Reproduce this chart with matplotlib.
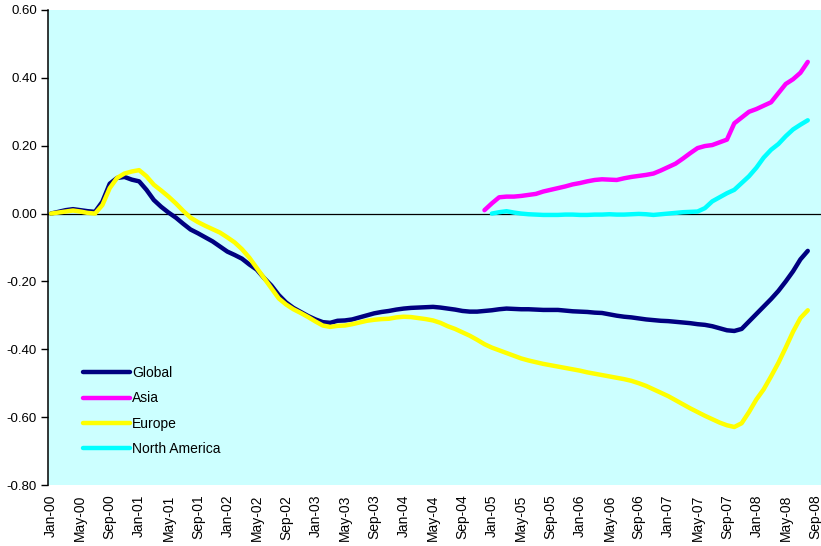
import matplotlib
matplotlib.use("Agg")
import matplotlib.pyplot as plt
import numpy as np
import pandas as pd

plt.rcParams["font.family"] = ["Liberation Sans", "DejaVu Sans"]

# monthly series, Jan-00 .. Aug-08
months = pd.date_range("2000-01-01", "2008-08-01", freq="MS")

global_vals = [
    0.000, 0.005, 0.010, 0.013, 0.010, 0.007, 0.005, 0.035, 0.088, 0.105,
    0.108, 0.100, 0.095, 0.070, 0.040, 0.020, 0.003, -0.012, -0.030, -0.047,
    -0.058, -0.070, -0.082, -0.097, -0.112, -0.122, -0.133, -0.150, -0.165, -0.190,
    -0.212, -0.240, -0.262, -0.278, -0.290, -0.302, -0.312, -0.320, -0.322, -0.316,
    -0.315, -0.312, -0.306, -0.300, -0.294, -0.290, -0.287, -0.283, -0.280, -0.278,
    -0.277, -0.276, -0.275, -0.277, -0.280, -0.283, -0.287, -0.289, -0.289, -0.287,
    -0.285, -0.282, -0.280, -0.281, -0.282, -0.282, -0.283, -0.284, -0.284, -0.284,
    -0.286, -0.288, -0.289, -0.290, -0.292, -0.293, -0.297, -0.301, -0.304, -0.306,
    -0.309, -0.312, -0.314, -0.316, -0.317, -0.319, -0.321, -0.323, -0.326, -0.328,
    -0.332, -0.338, -0.344, -0.346, -0.340, -0.318, -0.296, -0.274, -0.252, -0.228,
    -0.200, -0.170, -0.135, -0.110,
]

europe_vals = [
    0.000, 0.003, 0.006, 0.009, 0.006, 0.002, 0.000, 0.025, 0.075, 0.105,
    0.118, 0.124, 0.128, 0.110, 0.085, 0.068, 0.050, 0.030, 0.008, -0.012,
    -0.025, -0.036, -0.046, -0.056, -0.070, -0.085, -0.105, -0.130, -0.160, -0.190,
    -0.220, -0.250, -0.268, -0.282, -0.293, -0.305, -0.318, -0.330, -0.334, -0.331,
    -0.330, -0.326, -0.321, -0.316, -0.313, -0.311, -0.310, -0.306, -0.304, -0.305,
    -0.308, -0.311, -0.315, -0.322, -0.332, -0.340, -0.350, -0.360, -0.372, -0.385,
    -0.395, -0.403, -0.411, -0.419, -0.427, -0.433, -0.438, -0.443, -0.447, -0.451,
    -0.455, -0.459, -0.463, -0.468, -0.472, -0.476, -0.480, -0.484, -0.488, -0.493,
    -0.500, -0.508, -0.518, -0.528, -0.538, -0.550, -0.562, -0.574, -0.585, -0.596,
    -0.606, -0.616, -0.624, -0.629, -0.618, -0.585, -0.548, -0.518, -0.480, -0.440,
    -0.395, -0.348, -0.308, -0.285,
]

# Asia starts Dec-04
asia_vals = [
    0.010, 0.030, 0.048, 0.050, 0.050, 0.052, 0.055, 0.058, 0.065, 0.070,
    0.075, 0.080, 0.086, 0.090, 0.095, 0.099, 0.101, 0.100, 0.099, 0.104,
    0.108, 0.111, 0.114, 0.118, 0.127, 0.137, 0.147, 0.162, 0.178, 0.193,
    0.199, 0.202, 0.210, 0.218, 0.266, 0.283, 0.300, 0.308, 0.318, 0.328,
    0.355, 0.382, 0.396, 0.415, 0.447,
]

# North America starts Jan-05
north_america_vals = [
    0.000, 0.004, 0.007, 0.003, 0.000, -0.002, -0.003, -0.004, -0.004, -0.004,
    -0.003, -0.003, -0.004, -0.004, -0.003, -0.003, -0.002, -0.003, -0.003, -0.002,
    -0.001, -0.002, -0.004, -0.002, 0.000, 0.002, 0.004, 0.005, 0.006, 0.016,
    0.036, 0.048, 0.060, 0.070, 0.090, 0.110, 0.135, 0.165, 0.188, 0.205,
    0.228, 0.248, 0.262, 0.275,
]

tick_labels = [
    "Jan-00", "May-00", "Sep-00", "Jan-01", "May-01", "Sep-01", "Jan-02", "May-02",
    "Sep-02", "Jan-03", "May-03", "Sep-03", "Jan-04", "May-04", "Sep-04", "Jan-05",
    "May-05", "Sep-05", "Jan-06", "May-06", "Sep-06", "Jan-07", "May-07", "Sep-07",
    "Jan-08", "May-08", "Sep-08",
]

y_ticks = [-0.8, -0.6, -0.4, -0.2, 0.0, 0.2, 0.4, 0.6]

series = [
    ("Global", global_vals, "#000080"),
    ("Asia", asia_vals, "#FF00FF"),
    ("Europe", europe_vals, "#FFFF00"),
    ("North America", north_america_vals, "#00FFFF"),
]

n_months = len(months)
fig = plt.figure(figsize=(8.21, 5.46), dpi=100)
ax = fig.add_axes([48 / 821, 61 / 546, 773 / 821, 475 / 546])
ax.set_facecolor("#CCFFFF")

for name, vals, color in series:
    x = np.arange(n_months - len(vals), n_months)
    ax.plot(x, vals, color=color, lw=3.2, label=name, solid_capstyle="round",
            solid_joinstyle="round")

ax.axhline(0, color="black", lw=0.9, zorder=1)

ax.set_ylim(-0.8, 0.6)
ax.set_yticks(y_ticks)
ax.set_yticklabels([f"{abs(v):.2f}" if abs(v) < 1e-9 else f"{v:.2f}" for v in y_ticks],
                   fontsize=9.5)
ax.set_xlim(-0.4, 104.8)
ax.set_xticks(np.arange(0, 4 * len(tick_labels), 4))
ax.set_xticklabels(tick_labels, rotation=90, fontsize=10)
ax.tick_params(axis="x", length=0, pad=7)
ax.tick_params(axis="y", length=5, width=1, direction="out", pad=3)

for side in ["top", "right", "bottom"]:
    ax.spines[side].set_visible(False)
ax.spines["left"].set_linewidth(1.1)

leg = ax.legend(loc="upper left", bbox_to_anchor=(0.038, 0.262), frameon=False,
                fontsize=10, handlelength=3.4, handletextpad=0.15,
                labelspacing=0.82, borderaxespad=0)

fig.savefig("out.png", dpi=100)
